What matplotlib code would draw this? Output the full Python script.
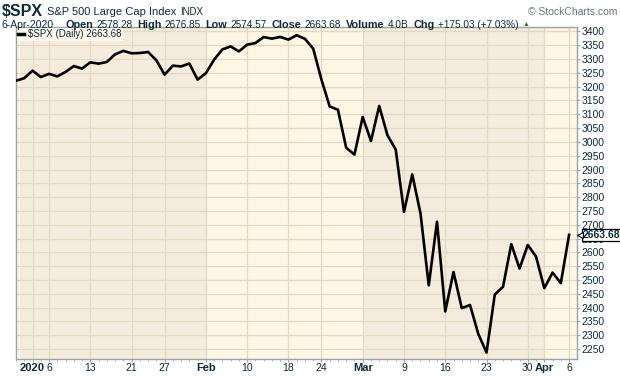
import matplotlib
matplotlib.use("Agg")
import matplotlib.pyplot as plt
import matplotlib.transforms as mtransforms
from matplotlib.lines import Line2D
import numpy as np

plt.rcParams['font.family'] = ['Liberation Sans', 'DejaVu Sans']

# Daily closes, $SPX
dates = ["2019-12-30", "2019-12-31",
         "2020-01-02", "2020-01-03", "2020-01-06", "2020-01-07", "2020-01-08", "2020-01-09", "2020-01-10",
         "2020-01-13", "2020-01-14", "2020-01-15", "2020-01-16", "2020-01-17",
         "2020-01-21", "2020-01-22", "2020-01-23", "2020-01-24",
         "2020-01-27", "2020-01-28", "2020-01-29", "2020-01-30", "2020-01-31",
         "2020-02-03", "2020-02-04", "2020-02-05", "2020-02-06", "2020-02-07",
         "2020-02-10", "2020-02-11", "2020-02-12", "2020-02-13", "2020-02-14",
         "2020-02-18", "2020-02-19", "2020-02-20", "2020-02-21",
         "2020-02-24", "2020-02-25", "2020-02-26", "2020-02-27", "2020-02-28",
         "2020-03-02", "2020-03-03", "2020-03-04", "2020-03-05", "2020-03-06",
         "2020-03-09", "2020-03-10", "2020-03-11", "2020-03-12", "2020-03-13",
         "2020-03-16", "2020-03-17", "2020-03-18", "2020-03-19", "2020-03-20",
         "2020-03-23", "2020-03-24", "2020-03-25", "2020-03-26", "2020-03-27",
         "2020-03-30", "2020-03-31", "2020-04-01", "2020-04-02", "2020-04-03",
         "2020-04-06"]
closes = [3221.3, 3230.8,
          3257.9, 3234.9, 3246.3, 3237.2, 3253.1, 3274.7, 3265.4,
          3288.1, 3283.2, 3289.3, 3316.8, 3329.6,
          3320.8, 3321.8, 3325.5, 3295.5,
          3243.6, 3276.2, 3273.4, 3283.7, 3225.5,
          3248.9, 3297.6, 3334.7, 3345.8, 3327.7,
          3352.1, 3357.8, 3379.5, 3373.9, 3380.2,
          3370.3, 3386.2, 3373.2, 3337.8,
          3225.9, 3128.2, 3116.4, 2978.8, 2954.2,
          3090.2, 3003.4, 3130.1, 3023.9, 2972.4,
          2746.6, 2882.2, 2741.4, 2480.6, 2711.0,
          2386.1, 2529.2, 2398.1, 2409.4, 2304.9,
          2237.4, 2447.3, 2475.6, 2630.1, 2541.5,
          2626.7, 2584.6, 2470.5, 2526.9, 2488.7,
          2663.68]

# labelled dates on the x axis
tick_dates = ["2020-01-02", "2020-01-06", "2020-01-13", "2020-01-21", "2020-01-27",
              "2020-02-03", "2020-02-10", "2020-02-18", "2020-02-24",
              "2020-03-02", "2020-03-09", "2020-03-16", "2020-03-23", "2020-03-30",
              "2020-04-01", "2020-04-06"]
tick_labels = ["2020", "6", "13", "21", "27", "Feb", "10", "18", "24",
               "Mar", "9", "16", "23", "30", "Apr", "6"]
bold_labels = ["2020", "Feb", "Mar", "Apr"]

y_ticks = list(range(2250, 3401, 50))

symbol = "$SPX"
name = "S&P 500 Large Cap Index"
exchange = "INDX"
quote_date = "6-Apr-2020"
quote = [("Open", "2578.28"), ("High", "2676.85"), ("Low", "2574.57"),
         ("Close", "2663.68"), ("Volume", "4.0B"), ("Chg", "+175.03 (+7.03%)")]
last = "2663.68"

W, H = 620, 376
navy = "#0d2a3a"
light_bg = "#fdf6e4"
dark_bg = "#f3ecdc"
grid_c = "#e2d9c4"
frame_c = "#98a4a6"

fig = plt.figure(figsize=(W / 100, H / 100), dpi=100)
ax = fig.add_axes([16 / W, 1 - 359 / H, 561 / W, 332 / H])

x = np.arange(len(dates))
idx = {d: i for i, d in enumerate(dates)}
tick_x = [idx[d] for d in tick_dates]

ax.set_facecolor(light_bg)
x_lo, x_hi = 0.43, len(dates) - 1 + 0.96
ax.axvspan(x_lo, idx["2020-02-03"], color=dark_bg, lw=0, zorder=0)
ax.axvspan(idx["2020-03-02"], idx["2020-04-01"], color=dark_bg, lw=0, zorder=0)

ax.plot(x, closes, color="black", lw=1.9, zorder=3)

ax.set_xlim(x_lo, x_hi)
ax.set_ylim(2214, 3416)

ax.set_xticks(tick_x)
ax.set_xticklabels(tick_labels)
ax.set_xticks(x, minor=True)
for lbl in ax.get_xticklabels():
    b = lbl.get_text() in bold_labels
    lbl.set_fontweight("bold" if b else "normal")
    lbl.set_fontsize(8 if b else 7.5)
ax.tick_params(axis="x", which="major", length=2.5, color=frame_c, labelcolor=navy, pad=0.5)
ax.tick_params(axis="x", which="minor", length=1.5, color=frame_c)

ax.yaxis.tick_right()
ax.set_yticks(y_ticks)
ax.tick_params(axis="y", length=2.5, color=frame_c, labelcolor=navy, labelsize=7.5, pad=1)

ax.grid(True, which="major", color=grid_c, lw=0.9, zorder=1)
ax.set_axisbelow(True)
for s in ax.spines.values():
    s.set_color(frame_c)
    s.set_linewidth(1)

# legend
h = Line2D([], [], color="black", lw=2.5)
leg = ax.legend([h], [f"{symbol} (Daily) {last}"], loc="upper left", handlelength=0.6,
                handletextpad=0.4, borderaxespad=0.1, borderpad=0.15, fontsize=7,
                frameon=True, fancybox=False)
leg.get_frame().set_facecolor("#fdf8ec")
leg.get_frame().set_edgecolor("none")
leg.get_frame().set_alpha(1)
for t in leg.get_texts():
    t.set_color(navy)

# last price tag
tr = mtransforms.blended_transform_factory(ax.transAxes, ax.transData)
yv = closes[-1]
ax.annotate(last, xy=(1, yv), xycoords=tr, xytext=(6, 0), textcoords="offset pixels",
            ha="left", va="center", fontsize=7.5, fontweight="bold", color=navy,
            bbox=dict(boxstyle="square,pad=0.12", fc="white", ec="black", lw=0.9),
            annotation_clip=False, zorder=5)
ax.plot([1.0], [yv], marker="<", ms=4.5, mfc="white", mec="black", mew=0.8,
        transform=tr + mtransforms.ScaledTranslation(3.5 / 100, 0, fig.dpi_scale_trans),
        clip_on=False, zorder=6)

# header
renderer = fig.canvas.get_renderer()


def put_line(pieces, x0, y0):
    xp = x0
    for txt, weight, size, gap, col in pieces:
        t = fig.text(xp / W, 1 - y0 / H, txt, fontweight=weight, fontsize=size,
                     color=col, va="center", ha="left")
        bb = t.get_window_extent(renderer)
        xp = bb.x1 + gap
    return xp


put_line([(symbol, "bold", 11.5, 4, navy), (name, "normal", 8, 4, navy),
          (exchange, "normal", 7, 0, navy)], 2, 12)
fig.text(617 / W, 1 - 12 / H, "\u00a9 StockCharts.com", ha="right", va="center",
         fontsize=7.5, color="#6b7478")

pieces = [(quote_date, "normal", 7.5, 11, navy)]
for k, v in quote:
    pieces.append((k, "bold", 7.8, 3.5, navy))
    pieces.append((v, "normal", 7.2, 4.5, navy))
xe = put_line(pieces, 2, 25)
fig.text(xe / W, 1 - 24 / H, "\u25b2", fontsize=5, color="#2f7a2f", va="center")

fig.savefig("out.png", dpi=100, facecolor="white")
